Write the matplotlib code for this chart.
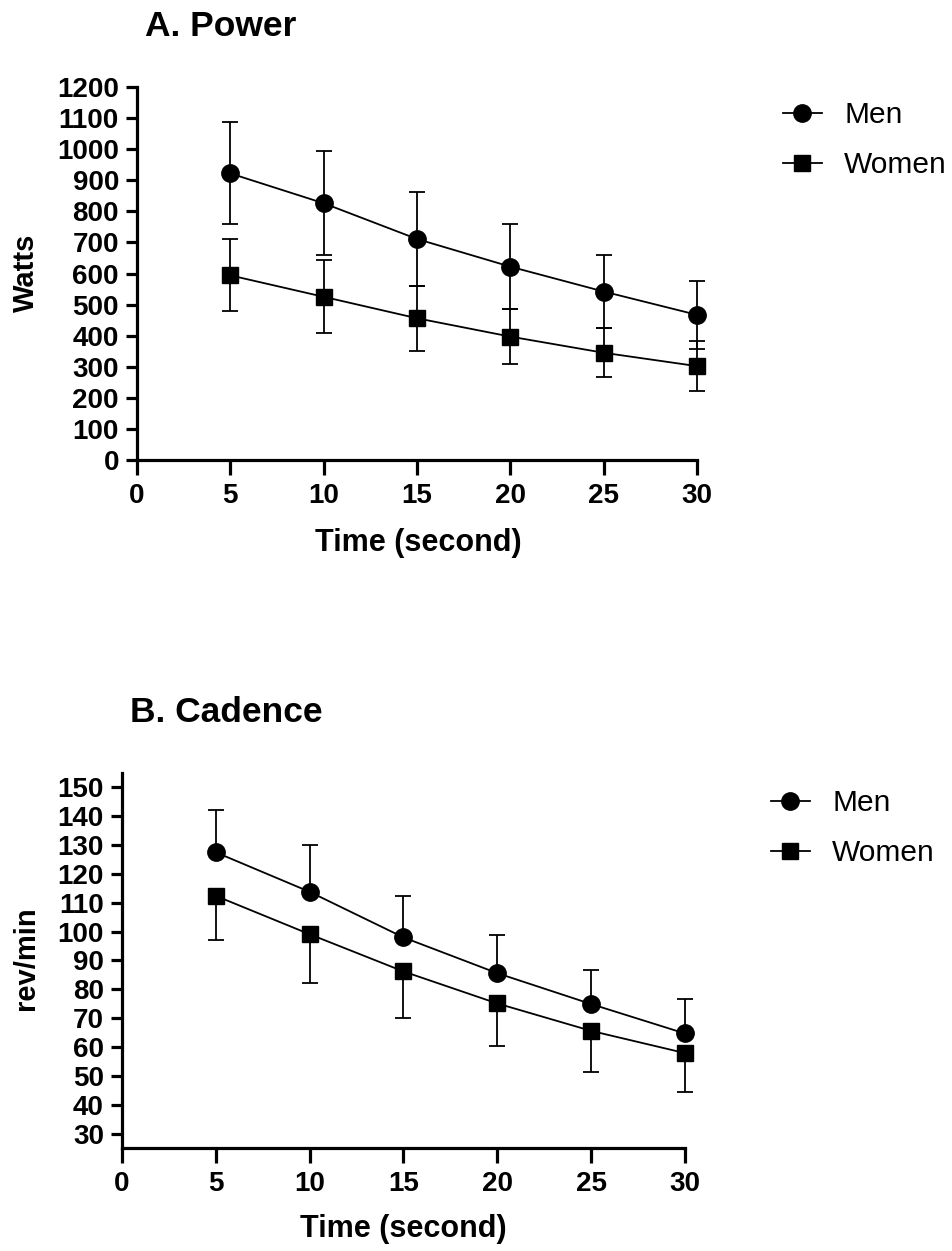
import matplotlib
matplotlib.use("Agg")
import matplotlib.pyplot as plt
from matplotlib.lines import Line2D
import numpy as np

plt.rcParams['font.family'] = ['Liberation Sans', 'DejaVu Sans']

time = [5, 10, 15, 20, 25, 30]

power_men = [922, 826, 711, 622, 542, 467]
power_men_sd = [164, 168, 151, 136, 118, 109]
power_women = [594, 525, 456, 397, 345, 302]
power_women_sd = [116, 117, 104, 88, 79, 80]

cad_men = [127.5, 113.8, 98.0, 85.6, 74.9, 64.7]
cad_men_sd = [14.8, 16.1, 14.3, 13.3, 11.9, 11.8]
cad_women = [112.4, 99.1, 86.2, 75.1, 65.6, 57.9]
cad_women_sd = [15.4, 16.9, 16.2, 14.9, 14.1, 13.4]

xticks = [0, 5, 10, 15, 20, 25, 30]
power_yticks = list(range(0, 1201, 100))
cad_yticks = list(range(30, 151, 10))

W, H = 953, 1251
fig = plt.figure(figsize=(W / 100, H / 100), dpi=100)

def px_axes(left, right, top, bottom):
    return fig.add_axes([left / W, 1 - bottom / H, (right - left) / W, (bottom - top) / H])

def style(ax):
    for s in ['top', 'right']:
        ax.spines[s].set_visible(False)
    for s in ['left', 'bottom']:
        ax.spines[s].set_linewidth(2.3)
    ax.tick_params(axis='x', width=2.3, length=10.5, labelsize=20, pad=6)
    ax.tick_params(axis='y', width=2.3, length=8, labelsize=20, pad=5)
    for lab in ax.get_xticklabels() + ax.get_yticklabels():
        lab.set_fontweight('bold')
    ax.set_facecolor('none')

lw = 1.3
ms_o = 12.5
ms_s = 11.5
cap = 5.5

def series(ax, y, err, marker, ms, label):
    c = ax.errorbar(time, y, yerr=err, color='black', lw=lw, elinewidth=lw,
                    capsize=cap, capthick=lw, marker=marker, ms=ms, label=label, zorder=3)
    for art in c.get_children():
        art.set_clip_on(False)
    c.lines[0].set_clip_on(False)

# Panel A
axA = px_axes(137, 697, 87, 460)
series(axA, power_men, power_men_sd, 'o', ms_o, 'Men')
series(axA, power_women, power_women_sd, 's', ms_s, 'Women')
axA.set_xlim(0, 30)
axA.set_ylim(0, 1200)
axA.set_xticks(xticks)
axA.set_yticks(power_yticks)
style(axA)

# Panel B
axB = px_axes(122, 685, 773, 1148)
z = np.zeros(len(time))
series(axB, cad_men, [z, cad_men_sd], 'o', ms_o, 'Men')
series(axB, cad_women, [cad_women_sd, z], 's', ms_s, 'Women')
axB.set_xlim(0, 30)
axB.set_ylim(25, 155)
axB.set_xticks(xticks)
axB.set_yticks(cad_yticks)
style(axB)

# Titles and labels
fig.text(145 / W, 1 - 27 / H, 'A. Power', fontsize=25.5, fontweight='bold', ha='left', va='center')
fig.text(130 / W, 1 - 712 / H, 'B. Cadence', fontsize=25.5, fontweight='bold', ha='left', va='center')
fig.text(26 / W, 1 - 273 / H, 'Watts', fontsize=21, fontweight='bold', rotation=90, ha='center', va='center')
fig.text(26 / W, 1 - 958 / H, 'rev/min', fontsize=21, fontweight='bold', rotation=90, ha='center', va='center')
fig.text(418 / W, 1 - 543 / H, 'Time (second)', fontsize=22, fontweight='bold', ha='center', va='center')
fig.text(403 / W, 1 - 1229 / H, 'Time (second)', fontsize=22, fontweight='bold', ha='center', va='center')

# Legends
for x0, y0 in [(783, 101), (771, 789)]:
    hs = [Line2D([], [], color='black', lw=lw, marker='o', ms=ms_o),
          Line2D([], [], color='black', lw=lw, marker='s', ms=ms_s)]
    fig.legend(hs, ['Men', 'Women'], loc='upper left', bbox_to_anchor=(x0 / W, 1 - y0 / H),
               frameon=False, fontsize=21.5, handlelength=1.3, handletextpad=0.75,
               labelspacing=0.75, borderpad=0, borderaxespad=0)

fig.savefig('out.png', dpi=100)
